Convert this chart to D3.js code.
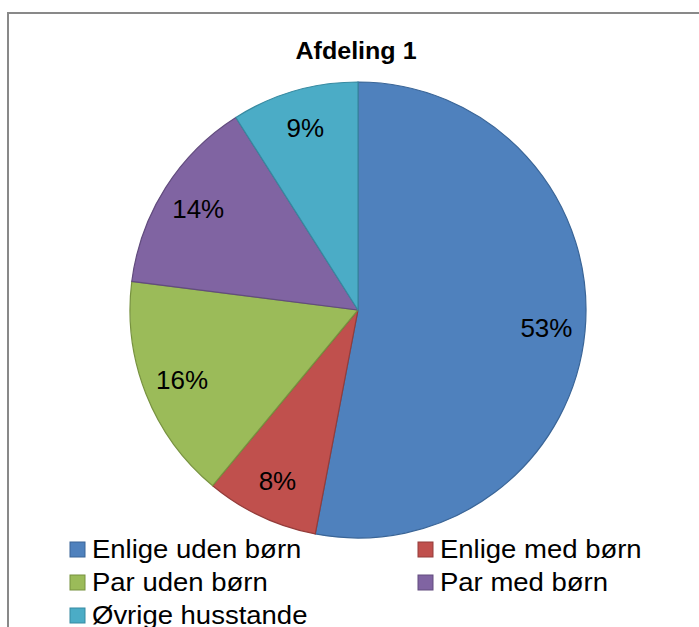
<!DOCTYPE html>
<html><head><meta charset="utf-8">
<script src="https://cdn.jsdelivr.net/npm/d3@7"></script>
<style>body{margin:0;background:#fff}svg{display:block}text{font-family:"Liberation Sans",Arial,sans-serif}</style>
</head><body>
<svg id="chart" width="699" height="627"></svg>
<script>
const title = "Afdeling 1";
const categories = ["Enlige uden børn","Enlige med børn","Par uden børn","Par med børn","Øvrige husstande"];
const values = [53, 8, 16, 14, 9];
const labels = ["53%","8%","16%","14%","9%"];
const fills = ["#4F81BD","#C0504D","#9BBB59","#8064A2","#4BACC6"];
const strokes = ["#3A6597","#943C3A","#77923F","#624C7E","#378AA1"];

const svg = d3.select("#chart");
svg.append("rect").attr("x",8).attr("y",13).attr("width",720).attr("height",640)
  .attr("fill","#fff").attr("stroke","#898989").attr("stroke-width",2);

svg.append("text").attr("transform","translate(356,59) scale(1.09,1)").attr("text-anchor","middle")
  .attr("font-weight","bold").attr("font-size",23).text(title);

const cx = 358, cy = 310, r = 228;
const pie = d3.pie().sort(null).value(d=>d)(values);
const arc = d3.arc().innerRadius(0).outerRadius(r);
const g = svg.append("g").attr("transform",`translate(${cx},${cy})`);
g.selectAll("path").data(pie).join("path")
  .attr("d",arc).attr("fill",(d,i)=>fills[i]).attr("stroke",(d,i)=>strokes[i]).attr("stroke-width",1.2);
const labelArc = d3.arc().innerRadius(r*0.83).outerRadius(r*0.83);
g.selectAll("text").data(pie).join("text")
  .attr("transform",d=>`translate(${labelArc.centroid(d)})`)
  .attr("text-anchor","middle").attr("dy","0.35em").attr("font-size",26)
  .text((d,i)=>labels[i]);

const legendPos = [[70,558],[418,558],[70,591],[418,591],[70,624]];
const lg = svg.append("g");
categories.forEach((c,i)=>{
  const [x,y] = legendPos[i];
  lg.append("rect").attr("x",x).attr("y",y-16).attr("width",15).attr("height",15)
    .attr("fill",fills[i]).attr("stroke",strokes[i]).attr("stroke-width",1);
  lg.append("text").attr("transform",`translate(${x+22},${y}) scale(1.1,1)`).attr("font-size",25).text(c);
});
</script>
</body></html>
